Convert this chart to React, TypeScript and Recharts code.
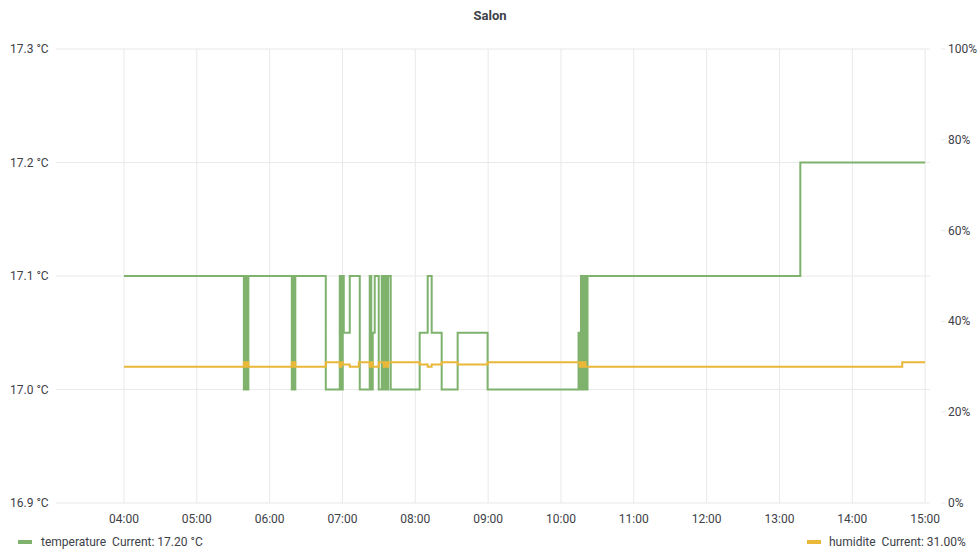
import React from 'react';
import { LineChart, Line, XAxis, YAxis, CartesianGrid } from 'recharts';

const title = 'Salon';

const tempTimes = [
  '04:00:00', '05:38:46', '05:40:00', '05:41:14', '05:42:28',
  '06:18:16', '06:19:30', '06:20:19', '06:21:09', '06:46:15',
  '06:57:46', '06:59:00', '07:00:14', '07:01:04', '07:06:00',
  '07:14:14', '07:22:27', '07:23:42', '07:24:56', '07:26:34',
  '07:29:52', '07:32:20', '07:33:59', '07:35:13', '07:36:27',
  '07:37:41', '07:39:45', '08:03:36', '08:10:12', '08:13:29',
  '08:21:43', '08:34:53', '08:59:34', '10:14:28', '10:15:17',
  '10:16:31', '10:17:45', '10:18:59', '10:20:13', '10:21:52',
  '13:17:10', '15:00:00',
];
const tempValues = [
  17.1, 17.0, 17.1, 17.0, 17.1,
  17.0, 17.1, 17.0, 17.1, 17.0,
  17.1, 17.0, 17.1, 17.05, 17.1,
  17.0, 17.1, 17.0, 17.05, 17.1,
  17.0, 17.1, 17.0, 17.1, 17.0,
  17.1, 17.0, 17.05, 17.1, 17.05,
  17.0, 17.05, 17.0, 17.05, 17.0,
  17.1, 17.0, 17.1, 17.0, 17.1,
  17.2, 17.2,
];

const humTimes = [
  '04:00:00', '05:38:46', '05:40:00', '05:41:14', '05:42:28',
  '06:18:16', '06:19:30', '06:20:19', '06:21:09', '06:46:15',
  '06:57:46', '06:59:00', '07:00:14', '07:06:00', '07:13:25',
  '07:22:27', '07:23:42', '07:24:56', '07:29:52', '07:33:59',
  '07:35:13', '07:36:27', '07:37:41', '07:39:45', '08:03:36',
  '08:10:12', '08:13:29', '08:21:43', '08:34:53', '08:59:34',
  '10:15:17', '10:16:31', '10:17:45', '10:18:59', '10:20:13',
  '10:21:52', '14:41:07', '15:00:00',
];
const humValues = [
  30, 31, 30, 31, 30,
  31, 30, 31, 30, 31,
  30, 31, 30.5, 30, 31,
  30, 31, 30, 31, 30,
  31, 30, 31, 31, 30.5,
  30, 30.5, 31, 30.5, 31,
  30, 31, 30, 31, 30,
  30, 31, 31,
];

const xTicks = [4, 5, 6, 7, 8, 9, 10, 11, 12, 13, 14, 15];
const leftTicks = [16.9, 17.0, 17.1, 17.2, 17.3];
const rightTicks = [0, 20, 40, 60, 80, 100];

const legendTemp = { name: 'temperature', current: 'Current: 17.20 °C' };
const legendHum = { name: 'humidite', current: 'Current: 31.00%' };

const GREEN = '#7eb26d';
const YELLOW = '#eab839';
const TEXT = '#3d4148';
const GRID = '#e9e9e9';
const FONT = 'Roboto, "Noto Sans", sans-serif';

const toHours = (s: string) => {
  const [h, m, sec] = s.split(':').map(Number);
  return h + m / 60 + sec / 3600;
};

const tempData = tempTimes.map((t, i) => ({ t: toHours(t), v: tempValues[i] }));
const humData = humTimes.map((t, i) => ({ t: toHours(t), v: humValues[i] }));

const pad = (n: number) => (n < 10 ? '0' + n : '' + n);

const LeftTick = (props: any) => {
  const { y, payload } = props;
  return (
    <text x={10} y={y + 4} textAnchor="start" fontSize={12} fill={TEXT} fontFamily={FONT}>
      {payload.value.toFixed(1)} °C
    </text>
  );
};

const RightTick = (props: any) => {
  const { x, y, payload } = props;
  return (
    <g>
      <line x1={x + 3} x2={x + 7} y1={y} y2={y} stroke={GRID} />
      <text x={x + 10} y={y + 4} textAnchor="start" fontSize={12} fill={TEXT} fontFamily={FONT}>
        {payload.value}%
      </text>
    </g>
  );
};

const BottomTick = (props: any) => {
  const { x, y, payload } = props;
  return (
    <text x={x} y={y + 12} textAnchor="middle" fontSize={12} fill={TEXT} fontFamily={FONT}>
      {pad(payload.value)}:00
    </text>
  );
};

const verticalGen = (p: any) => {
  const scale = p && p.xAxis && p.xAxis.scale;
  if (scale && typeof scale === 'function') {
    return xTicks.map((t) => scale(t));
  }
  if (scale && typeof scale.map === 'function') {
    return xTicks.map((t) => scale.map(t));
  }
  return [];
};

export default function App() {
  return (
    <div style={{ position: 'absolute', left: 0, top: 0, width: 980, height: 560, background: '#fff', fontFamily: FONT }}>
      <div style={{ position: 'absolute', left: 0, top: 8, width: 980, textAlign: 'center', fontSize: 13, fontWeight: 'bold', color: TEXT }}>
        {title}
      </div>
      <LineChart width={980} height={560} margin={{ top: 49, right: 0, left: 0, bottom: 27 }}>
        <CartesianGrid stroke={GRID} yAxisId="left" verticalCoordinatesGenerator={verticalGen} />
        <XAxis
          dataKey="t"
          type="number"
          domain={[3 + 4 / 60, 15 + 4 / 60]}
          ticks={xTicks}
          tick={<BottomTick />}
          tickLine={false}
          axisLine={false}
          height={30}
          allowDataOverflow
        />
        <YAxis
          yAxisId="left"
          orientation="left"
          domain={[16.9, 17.3]}
          ticks={leftTicks}
          tick={<LeftTick />}
          tickLine={false}
          axisLine={false}
          width={56}
          allowDataOverflow
        />
        <YAxis
          yAxisId="right"
          orientation="right"
          domain={[0, 100]}
          ticks={rightTicks}
          tick={<RightTick />}
          tickLine={false}
          axisLine={false}
          width={50}
        />
        <Line
          yAxisId="left"
          data={tempData}
          dataKey="v"
          type="stepAfter"
          stroke={GREEN}
          strokeWidth={2}
          dot={false}
          isAnimationActive={false}
        />
        <Line
          yAxisId="right"
          data={humData}
          dataKey="v"
          type="stepAfter"
          stroke={YELLOW}
          strokeWidth={2}
          dot={false}
          isAnimationActive={false}
        />
      </LineChart>
      <div style={{ position: 'absolute', left: 18, top: 535, fontSize: 12, color: TEXT, display: 'flex', alignItems: 'center', whiteSpace: 'pre' }}>
        <span style={{ display: 'inline-block', width: 14, height: 4, background: GREEN, marginRight: 9 }} />
        <span>{legendTemp.name}  {legendTemp.current}</span>
      </div>
      <div style={{ position: 'absolute', left: 807, top: 535, fontSize: 12, color: TEXT, display: 'flex', alignItems: 'center', whiteSpace: 'pre' }}>
        <span style={{ display: 'inline-block', width: 14, height: 4, background: YELLOW, marginRight: 8 }} />
        <span>{legendHum.name}  {legendHum.current}</span>
      </div>
    </div>
  );
}
